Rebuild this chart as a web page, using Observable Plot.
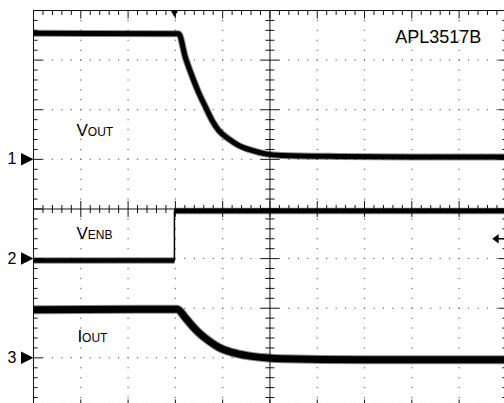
<!DOCTYPE html>
<html><head><meta charset="utf-8">
<script src="https://cdn.jsdelivr.net/npm/d3@7"></script>
<script src="https://cdn.jsdelivr.net/npm/@observablehq/plot@0.6"></script>
<style>
html,body{margin:0;padding:0;background:#fff;overflow:hidden;}
</style>
</head><body><div id="chart"></div>
<script>
// Oscilloscope screen: time in divisions (10 across), amplitude in divisions (centre = 0)
const voutTime  = [0, 3.07, 3.21, 3.36, 3.49, 3.64, 3.78, 3.92, 4.13, 4.34, 4.62, 4.91, 5.26, 6.5, 8, 9.96];
const voutLevel = [3.54, 3.53, 3.06, 2.66, 2.35, 2.05, 1.78, 1.58, 1.41, 1.28, 1.18, 1.11, 1.08, 1.06, 1.05, 1.05];
const venbTime  = [0, 2.98, 2.98, 9.96];
const venbLevel = [-1.04, -1.04, -0.04, -0.04];
const ioutTime  = [0, 3.04, 3.21, 3.36, 3.49, 3.71, 3.92, 4.20, 4.55, 4.91, 5.26, 7, 9.96];
const ioutLevel = [-2.03, -2.02, -2.19, -2.36, -2.49, -2.66, -2.79, -2.89, -2.96, -3.0, -3.02, -3.04, -3.04];
const channelNames  = ["1", "2", "3"];
const channelGround = [1.0, -1.0, -3.0];
const traceMain = ["V", "V", "I"];
const traceSub  = ["OUT", "ENB", "OUT"];
const partNumber = "APL3517B";
const triggerTime = 2.98;
const triggerLevel = -0.6;

const vout = voutTime.map((t, i) => ({t, v: voutLevel[i]}));
const venb = venbTime.map((t, i) => ({t, v: venbLevel[i], seg: venbLevel[i] > -0.5 ? "hi" : "lo"}));
const iout = ioutTime.map((t, i) => ({t, v: ioutLevel[i]}));

// graticule helpers
const minorX = d3.range(0, 51).map(i => +(i * 0.2).toFixed(2));
const minorY = d3.range(-20, 21).map(j => +(j * 0.2).toFixed(2));
const isMajor = v => Math.abs(v - Math.round(v)) < 1e-6;
const hDots = [];
for (const gy of [-3, -2, -1, 1, 2, 3]) for (const x of minorX) if (x > 0 && x < 10 && x !== 5) hDots.push({x, y: gy});
const vDots = [];
for (const gx of [1, 2, 3, 4, 6, 7, 8, 9]) for (const y of minorY) if (y > -4 && y < 4 && y !== 0) vDots.push({x: gx, y});

const len = s => Math.sqrt(s / Math.PI);
const hBoth  = {draw(c, s) { const r = len(s); c.moveTo(-r, 0); c.lineTo(r, 0); }};
const vBoth  = {draw(c, s) { const r = len(s); c.moveTo(0, -r); c.lineTo(0, r); }};
const hRight = {draw(c, s) { const r = len(s); c.moveTo(0, 0); c.lineTo(r, 0); }};
const hLeft  = {draw(c, s) { const r = len(s); c.moveTo(0, 0); c.lineTo(-r, 0); }};
const vDown  = {draw(c, s) { const r = len(s); c.moveTo(0, 0); c.lineTo(0, r); }};
const vUp    = {draw(c, s) { const r = len(s); c.moveTo(0, 0); c.lineTo(0, -r); }};
const triRight = {draw(c, s) { const r = len(s); c.moveTo(0, 0); c.lineTo(-r, -r * 0.5); c.lineTo(-r, r * 0.5); c.closePath(); }};
const triDown  = {draw(c, s) { const r = len(s); c.moveTo(-r / 2, 0); c.lineTo(r / 2, 0); c.lineTo(0, r * 0.85); c.closePath(); }};
const arrowLeft = {draw(c, s) { const r = len(s); c.moveTo(-r, 0); c.lineTo(-r * 0.6, -r * 0.3); c.lineTo(-r * 0.6, r * 0.3); c.closePath(); c.moveTo(-r * 0.6, 0); c.lineTo(0, 0); }};

const tickMark = (data, opts, sym, rMinor, rMajor) => [
  Plot.dot(data.filter(d => !isMajor(opts.key(d))), {x: opts.x, y: opts.y, symbol: sym, r: rMinor, fill: "none", stroke: "#111", strokeWidth: 1}),
  Plot.dot(data.filter(d => isMajor(opts.key(d))), {x: opts.x, y: opts.y, symbol: sym, r: rMajor, fill: "none", stroke: "#111", strokeWidth: 1})
];

const font = "Liberation Sans, Arial, Helvetica, sans-serif";
const ch = [0, 1, 2];

const chart = Plot.plot({
  width: 504, height: 403,
  marginTop: 10, marginLeft: 33, marginRight: 0, marginBottom: 0,
  x: {domain: [0, 9.96], axis: null},
  y: {domain: [-3.92, 4], axis: null},
  style: {fontFamily: font, background: "white", color: "black", overflow: "hidden"},
  marks: [
    // dotted graticule
    Plot.dot(hDots, {x: "x", y: "y", r: 0.75, fill: "#777", stroke: "none"}),
    Plot.dot(vDots, {x: "x", y: "y", r: 0.75, fill: "#777", stroke: "none"}),
    // frame and centre lines
    Plot.ruleX([0, 5, 10], {stroke: "#111", strokeWidth: 1}),
    Plot.ruleY([4, 0, -4], {stroke: "#111", strokeWidth: 1}),
    // tick marks
    ...tickMark(minorY, {x: () => 0, y: d => d, key: d => d}, hRight, 4, 9),
    ...tickMark(minorY, {x: () => 10, y: d => d, key: d => d}, hLeft, 4, 8),
    ...tickMark(minorY, {x: () => 5, y: d => d, key: d => d}, hBoth, 4.5, 9),
    ...tickMark(minorX, {x: d => d, y: () => 4, key: d => d}, vDown, 4.5, 8),
    ...tickMark(minorX, {x: d => d, y: () => -4, key: d => d}, vUp, 4.5, 8),
    ...tickMark(minorX, {x: d => d, y: () => 0, key: d => d}, vBoth, 4, 8),
    // traces (soft edge + core)
    Plot.line(vout, {x: "t", y: "v", curve: "monotone-x", stroke: "#000", strokeWidth: 7, strokeOpacity: 0.45, strokeLinecap: "butt"}),
    Plot.line(vout, {x: "t", y: "v", curve: "monotone-x", stroke: "#000", strokeWidth: 5, strokeLinecap: "butt"}),
    Plot.line(venb, {x: "t", y: "v", stroke: "#000", strokeWidth: 1.5}),
    Plot.line(venb, {x: "t", y: "v", z: "seg", stroke: "#000", strokeWidth: 6.5, strokeOpacity: 0.45, strokeLinecap: "butt"}),
    Plot.line(venb, {x: "t", y: "v", z: "seg", stroke: "#000", strokeWidth: 4.5, strokeLinecap: "butt"}),
    Plot.line(iout, {x: "t", y: "v", curve: "monotone-x", stroke: "#000", strokeWidth: 9, strokeOpacity: 0.45, strokeLinecap: "butt"}),
    Plot.line(iout, {x: "t", y: "v", curve: "monotone-x", stroke: "#000", strokeWidth: 7, strokeLinecap: "butt"}),
    // channel ground markers
    Plot.dot(ch, {x: () => 0, y: i => channelGround[i], symbol: triRight, r: 12.5, fill: "#000", stroke: "none"}),
    Plot.text(ch, {x: () => 0, y: i => channelGround[i], text: i => channelNames[i], dx: -17, textAnchor: "end", lineAnchor: "middle", fontSize: 16, fill: "#000"}),
    // trigger markers
    Plot.dot([triggerTime], {x: d => d, y: () => 4, symbol: triDown, r: 7.5, fill: "#000", stroke: "none"}),
    Plot.dot([triggerLevel], {x: () => 9.96, y: d => d, symbol: arrowLeft, r: 11, fill: "#000", stroke: "#000", strokeWidth: 1.5}),
    // trace labels
    Plot.text([0], {x: () => 0.91, y: () => 1.48, text: () => traceMain[0], textAnchor: "start", lineAnchor: "bottom", fontSize: 17, fill: "#000"}),
    Plot.text([0], {x: () => 0.91, y: () => 1.48, text: () => traceSub[0], dx: 11.3, textAnchor: "start", lineAnchor: "bottom", fontSize: 12, fill: "#000"}),
    Plot.text([1], {x: () => 0.91, y: () => -0.60, text: () => traceMain[1], textAnchor: "start", lineAnchor: "bottom", fontSize: 17, fill: "#000"}),
    Plot.text([1], {x: () => 0.91, y: () => -0.60, text: () => traceSub[1], dx: 11.3, textAnchor: "start", lineAnchor: "bottom", fontSize: 12, fill: "#000"}),
    Plot.text([2], {x: () => 0.93, y: () => -2.69, text: () => traceMain[2], textAnchor: "start", lineAnchor: "bottom", fontSize: 17, fill: "#000"}),
    Plot.text([2], {x: () => 0.93, y: () => -2.69, text: () => traceSub[2], dx: 4.6, textAnchor: "start", lineAnchor: "bottom", fontSize: 12, fill: "#000"}),
    Plot.text([partNumber], {x: () => 7.65, y: () => 3.355, text: d => d, textAnchor: "start", lineAnchor: "bottom", fontSize: 18, fill: "#000"})
  ]
});
document.getElementById("chart").appendChild(chart);
</script>
</body></html>
